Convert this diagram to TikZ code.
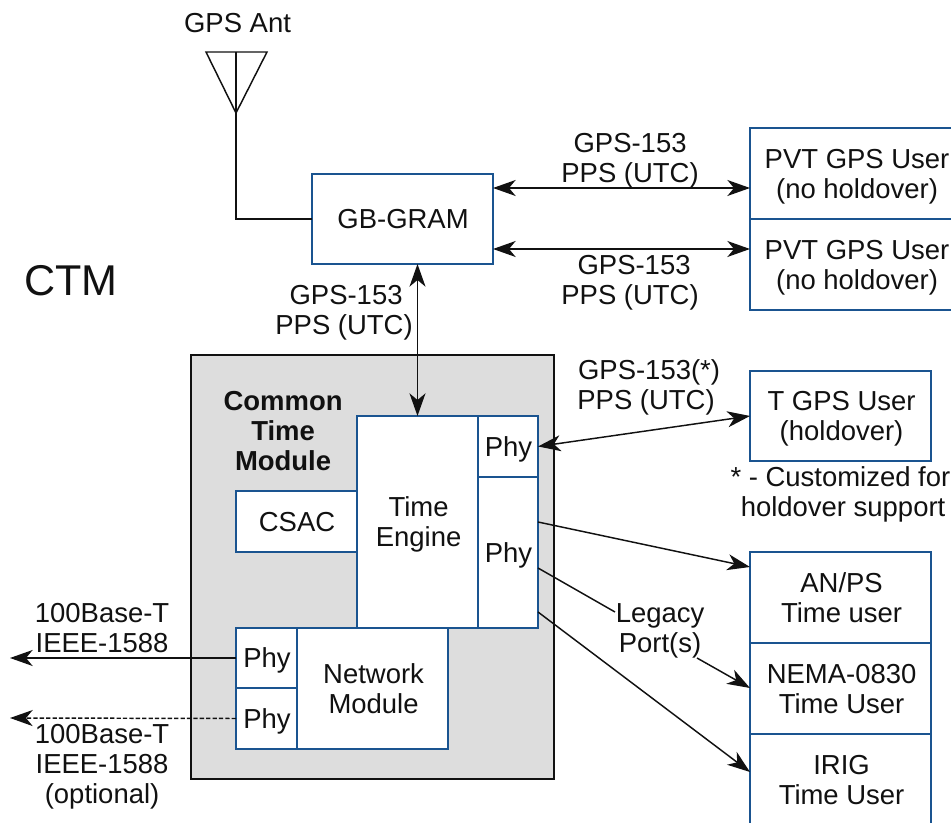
\documentclass[tikz,border=0pt]{standalone}
\usepackage{fontspec}
\setmainfont{Liberation Sans}
\usetikzlibrary{arrows.meta,calc}
\definecolor{boxblue}{HTML}{1A5490}
\definecolor{modgrey}{HTML}{DDDDDD}
\definecolor{inkc}{HTML}{111111}
\tikzset{
  x=0.75pt,y=-0.75pt,
  capstrut/.style={execute at begin node={\rule[-4.3pt]{0pt}{#1}\kern0.8pt},execute at end node={\rule[-4.3pt]{0pt}{0pt}}},
  capstrut/.default=23.4pt,
  two/.style={capstrut=46pt},
  three/.style={capstrut=68.6pt},
  lbl/.style={capstrut,inner sep=0pt,outer sep=0pt,align=center,text=inkc,font=\fontsize{20.6}{22.6}\selectfont},
  bigl/.style={inner sep=0pt,outer sep=0pt,text=inkc,font=\fontsize{32.3}{36}\selectfont},
  bluebox/.style={capstrut,draw=boxblue,line width=1.25pt,fill=white,inner sep=0pt,outer sep=0pt,align=center,text=inkc,
     font=\fontsize{20.6}{22.6}\selectfont},
  wire/.style={draw=inkc,line width=1.1pt},
  tipped/.style={wire,-{Stealth[length=17pt,width=12pt,inset=5pt]}},
  bothtip/.style={wire,{Stealth[length=17pt,width=12pt,inset=5pt]}-{Stealth[length=17pt,width=12pt,inset=5pt]}},
}
\newcommand{\boxat}[6][]{\node[bluebox,anchor=north west,minimum width=#5*0.75pt,minimum height=#6*0.75pt,#1] (#2) at (#3,#4)}
\begin{document}
\begin{tikzpicture}
\clip (0,0) rectangle (951,823);
\fill[white] (0,0) rectangle (951,823);

% grey module
\node[draw=inkc,fill=modgrey,line width=1.1pt,anchor=north west,minimum width=363*0.75pt,minimum height=424*0.75pt,inner sep=0pt,outer sep=0pt] (ctmbox) at (191,355) {};

% boxes
\boxat{gb}{312}{174}{181}{90}{GB-GRAM};
\boxat[two]{pvta}{750}{128}{212}{91}{PVT GPS User\\(no holdover)};
\boxat[two]{pvtb}{750}{219}{212}{91}{PVT GPS User\\(no holdover)};
\boxat[two]{tgps}{750}{371}{181}{90}{T GPS User\\(holdover)};
\boxat[two]{anps}{750}{552}{181}{91}{AN/PS\\Time user};
\boxat[two]{nema}{750}{643}{181}{91}{NEMA-0830\\Time User};
\boxat[two]{irig}{750}{734}{181}{91}{IRIG\\Time User};

\boxat[two]{engine}{357}{416}{121}{212}{Time\\Engine};
\boxat{phyt}{478}{416}{60}{61}{Phy};
\boxat{phym}{478}{477}{60}{151}{Phy};
\boxat{csac}{236}{491}{121}{61}{CSAC};
\boxat[two]{netmod}{297}{628}{151}{121}{Network\\Module};
\boxat{phya}{236}{628}{61}{60}{Phy};
\boxat{phyb}{236}{688}{61}{61}{Phy};

% antenna
\coordinate (antl) at (206,52);
\coordinate (antr) at (267,52);
\coordinate (anttip) at (236,113);
\coordinate (anttop) at (236,52);
\draw[wire,line join=miter] (antl) -- (antr) -- (anttip) -- cycle;
\draw[wire] (anttop) -- (anttip) |- (gb.west);

% labels
\node[lbl] (antlab) at (237,23) {GPS Ant};
\node[bigl] (ctmlab) at (71,281) {CTM};
\node[lbl,two] (la) at (629,158) {GPS-153\\PPS (UTC)};
\node[lbl,two] (lb) at (629,280) {\hspace*{6pt}GPS-153\\PPS (UTC)};
\node[lbl,two] (lc) at (343,310) {\hspace*{3pt}GPS-153\\PPS (UTC)};
\node[lbl,two] (ld) at (645,385) {\hspace*{4.5pt}GPS-153(*)\\PPS (UTC)};
\node[lbl,three,font=\fontsize{20.6}{22.6}\selectfont\bfseries] (cm) at (282,431) {Common\\Time\\Module};
\node[lbl,two] (note) at (842,492) {* - Customized for\hspace*{4pt}\\holdover support};
\node[lbl,two] (legacy) at (659,628) {Legacy\\Port(s)};
\node[lbl,two] (netl) at (101,628) {100Base-T\\IEEE-1588};
\node[lbl,three] (netm) at (101,764) {100Base-T\\IEEE-1588\\(optional)};

% free ends
\coordinate (outa) at (10,658);
\coordinate (outb) at (10,718);

% connectors
\draw[bothtip] ($(gb.east)+(0,-31)$) -- (pvta.west |- {$(gb.east)+(0,-31)$});
\draw[bothtip] ($(gb.east)+(0,30)$) -- (pvtb.west |- {$(gb.east)+(0,30)$});
\draw[bothtip] (engine.north |- gb.south) -- (engine.north);
\draw[bothtip] (phyt.east) -- ($(tgps.north west)+(0,45)$);
\draw[tipped] ($(phym.north east)+(0,45)$) -- ($(anps.north west)+(0,15)$);
\draw[wire] ($(phym.north east)+(0,91)$) -- ($(legacy.center)+(-44,-16)$);
\draw[tipped] ($(legacy.center)+(38,30)$) -- ($(nema.north west)+(0,45)$);
\draw[tipped] ($(phym.north east)+(0,135)$) -- ($(irig.north west)+(0,38)$);
\draw[tipped] (phya.west) -- (outa);
\draw[tipped,dash pattern=on 3.2pt off 1.6pt] (phyb.west) -- (outb);
\end{tikzpicture}
\end{document}
